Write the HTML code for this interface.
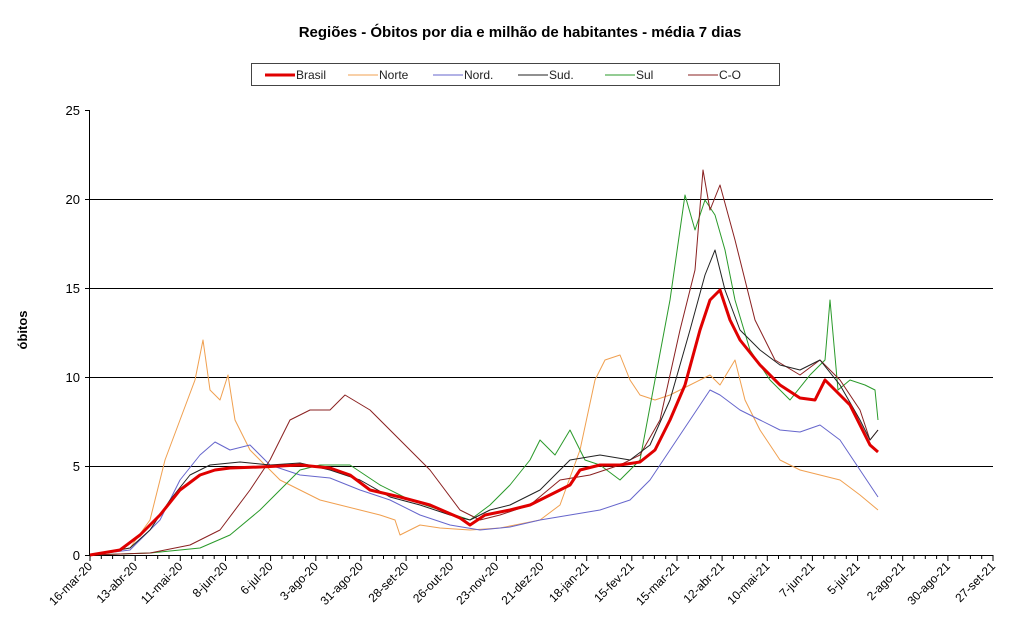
<!DOCTYPE html>
<html><head><meta charset="utf-8"><style>body{margin:0;background:#fff}svg{display:block;font-family:"Liberation Sans",Arial,sans-serif}</style></head><body>
<svg width="1024" height="632" viewBox="0 0 1024 632">
<text x="520" y="37" text-anchor="middle" font-size="15" font-weight="bold">Regiões - Óbitos por dia e milhão de habitantes  - média 7 dias</text>
<rect x="251.5" y="63.5" width="528" height="22" fill="#fff" stroke="#444"/>
<g font-size="12" fill="#222">
<line x1="265" y1="75" x2="295" y2="75" stroke="#e00000" stroke-width="3"/><text x="296" y="79">Brasil</text>
<line x1="348" y1="75" x2="378" y2="75" stroke="#f0a050"/><text x="379" y="79">Norte</text>
<line x1="433" y1="75" x2="463" y2="75" stroke="#6666cc"/><text x="464" y="79">Nord.</text>
<line x1="518" y1="75" x2="548" y2="75" stroke="#222"/><text x="549" y="79">Sud.</text>
<line x1="605" y1="75" x2="635" y2="75" stroke="#2a9a2a"/><text x="636" y="79">Sul</text>
<line x1="688" y1="75" x2="718" y2="75" stroke="#8a2020"/><text x="719" y="79">C-O</text>
</g>
<g stroke="#000" stroke-width="1">
<line x1="90" y1="199.5" x2="993" y2="199.5"/><line x1="90" y1="288.5" x2="993" y2="288.5"/>
<line x1="90" y1="377.5" x2="993" y2="377.5"/><line x1="90" y1="466.5" x2="993" y2="466.5"/>
<line x1="89.5" y1="110" x2="89.5" y2="556"/><line x1="89" y1="555.5" x2="993" y2="555.5"/>
</g>
<g stroke="#000"><line x1="85" y1="110.5" x2="90" y2="110.5"/><line x1="85" y1="199.5" x2="90" y2="199.5"/><line x1="85" y1="288.5" x2="90" y2="288.5"/><line x1="85" y1="377.5" x2="90" y2="377.5"/><line x1="85" y1="466.5" x2="90" y2="466.5"/><line x1="85" y1="555.5" x2="90" y2="555.5"/></g>
<g font-size="13" text-anchor="end"><text x="80" y="115">25</text><text x="80" y="204">20</text><text x="80" y="293">15</text><text x="80" y="382">10</text><text x="80" y="471">5</text><text x="80" y="560">0</text></g>
<text transform="translate(27,330) rotate(-90)" text-anchor="middle" font-size="13" font-weight="bold">óbitos</text>
<path stroke="#000" fill="none" d="M101.3 555v4M112.6 555v4M123.9 555v4M146.4 555v4M157.7 555v4M169 555v4M191.6 555v4M202.9 555v4M214.2 555v4M236.7 555v4M248 555v4M259.3 555v4M281.9 555v4M293.2 555v4M304.5 555v4M327 555v4M338.3 555v4M349.6 555v4M372.2 555v4M383.5 555v4M394.8 555v4M417.3 555v4M428.6 555v4M439.9 555v4M462.5 555v4M473.8 555v4M485.1 555v4M507.6 555v4M518.9 555v4M530.2 555v4M552.8 555v4M564.1 555v4M575.4 555v4M597.9 555v4M609.2 555v4M620.5 555v4M643.1 555v4M654.4 555v4M665.7 555v4M688.2 555v4M699.5 555v4M710.8 555v4M733.4 555v4M744.7 555v4M756 555v4M778.5 555v4M789.8 555v4M801.1 555v4M823.7 555v4M835 555v4M846.3 555v4M868.8 555v4M880.1 555v4M891.4 555v4M914 555v4M925.3 555v4M936.6 555v4M959.1 555v4M970.4 555v4M981.7 555v4M90 555v6M135.2 555v6M180.3 555v6M225.5 555v6M270.6 555v6M315.8 555v6M360.9 555v6M406.1 555v6M451.2 555v6M496.4 555v6M541.5 555v6M586.7 555v6M631.8 555v6M677 555v6M722.1 555v6M767.3 555v6M812.4 555v6M857.6 555v6M902.7 555v6M947.9 555v6M993 555v6"/>
<g font-size="12" text-anchor="end">
<text transform="translate(93,567) rotate(-45)">16-mar-20</text>
<text transform="translate(138.2,567) rotate(-45)">13-abr-20</text>
<text transform="translate(183.3,567) rotate(-45)">11-mai-20</text>
<text transform="translate(228.5,567) rotate(-45)">8-jun-20</text>
<text transform="translate(273.6,567) rotate(-45)">6-jul-20</text>
<text transform="translate(318.8,567) rotate(-45)">3-ago-20</text>
<text transform="translate(363.9,567) rotate(-45)">31-ago-20</text>
<text transform="translate(409.1,567) rotate(-45)">28-set-20</text>
<text transform="translate(454.2,567) rotate(-45)">26-out-20</text>
<text transform="translate(499.4,567) rotate(-45)">23-nov-20</text>
<text transform="translate(544.5,567) rotate(-45)">21-dez-20</text>
<text transform="translate(589.7,567) rotate(-45)">18-jan-21</text>
<text transform="translate(634.8,567) rotate(-45)">15-fev-21</text>
<text transform="translate(680,567) rotate(-45)">15-mar-21</text>
<text transform="translate(725.1,567) rotate(-45)">12-abr-21</text>
<text transform="translate(770.3,567) rotate(-45)">10-mai-21</text>
<text transform="translate(815.4,567) rotate(-45)">7-jun-21</text>
<text transform="translate(860.6,567) rotate(-45)">5-jul-21</text>
<text transform="translate(905.7,567) rotate(-45)">2-ago-21</text>
<text transform="translate(950.9,567) rotate(-45)">30-ago-21</text>
<text transform="translate(996,567) rotate(-45)">27-set-21</text>
</g>
<g fill="none" stroke-linejoin="round">
<polyline stroke="#f0a050" points="90,555 130,548 150,520 165,460 180,420 195,380 203,340 210,390 220,400 228,375 235,420 250,450 265,465 280,480 300,490 320,500 340,505 360,510 380,515 395,520 400,535 420,525 440,528 470,530 500,528 540,520 560,505 580,450 595,380 605,360 620,355 630,380 640,395 655,400 670,395 690,385 710,375 720,385 735,360 745,400 760,430 780,460 800,470 820,475 840,480 860,495 878,510"/>
<polyline stroke="#6666cc" points="90,555 130,550 160,520 180,480 200,455 215,442 230,450 250,445 270,465 300,475 330,478 360,490 390,500 420,515 450,525 480,530 510,527 540,520 570,515 600,510 630,500 650,480 670,450 690,420 710,390 720,395 740,410 760,420 780,430 800,432 820,425 840,440 860,470 878,497"/>
<polyline stroke="#2a9a2a" points="90,555 150,553 200,548 230,535 260,510 280,490 300,470 320,465 350,465 380,485 410,500 440,510 470,520 490,505 510,485 530,460 540,440 555,455 570,430 585,460 600,465 620,480 640,460 655,380 670,300 685,195 695,230 705,200 715,215 725,250 735,300 750,350 770,380 790,400 810,375 825,360 830,300 838,390 850,380 865,385 875,390 878,420"/>
<polyline stroke="#8a2020" points="90,555 150,553 190,545 220,530 250,490 270,460 290,420 310,410 330,410 345,395 370,410 400,440 430,470 460,510 480,520 500,515 530,505 560,480 590,475 620,465 640,455 660,420 680,330 695,270 703,170 710,210 720,185 735,240 755,320 775,360 800,375 820,360 840,380 860,410 870,440 878,430"/>
<polyline stroke="#222" points="90,555 130,548 150,530 170,500 190,475 210,465 240,462 270,465 300,463 330,470 360,480 390,497 420,505 450,515 470,520 490,510 510,505 540,490 570,460 600,455 630,460 650,445 670,400 690,330 705,275 715,250 725,290 740,330 760,350 780,365 800,370 820,360 840,385 860,420 870,440 878,430"/>
<polyline stroke="#e00000" stroke-width="3" points="90,555 120,550 140,535 160,515 180,490 200,475 215,470 230,468 260,467 300,465 330,468 350,475 370,490 400,497 430,505 460,518 470,525 485,515 510,510 530,505 550,495 570,485 580,470 600,465 620,465 640,462 655,450 670,420 685,385 700,330 710,300 720,290 730,320 740,340 760,365 780,385 800,398 815,400 825,380 835,390 850,405 860,425 870,445 878,452"/>
</g>
</svg></body></html>
